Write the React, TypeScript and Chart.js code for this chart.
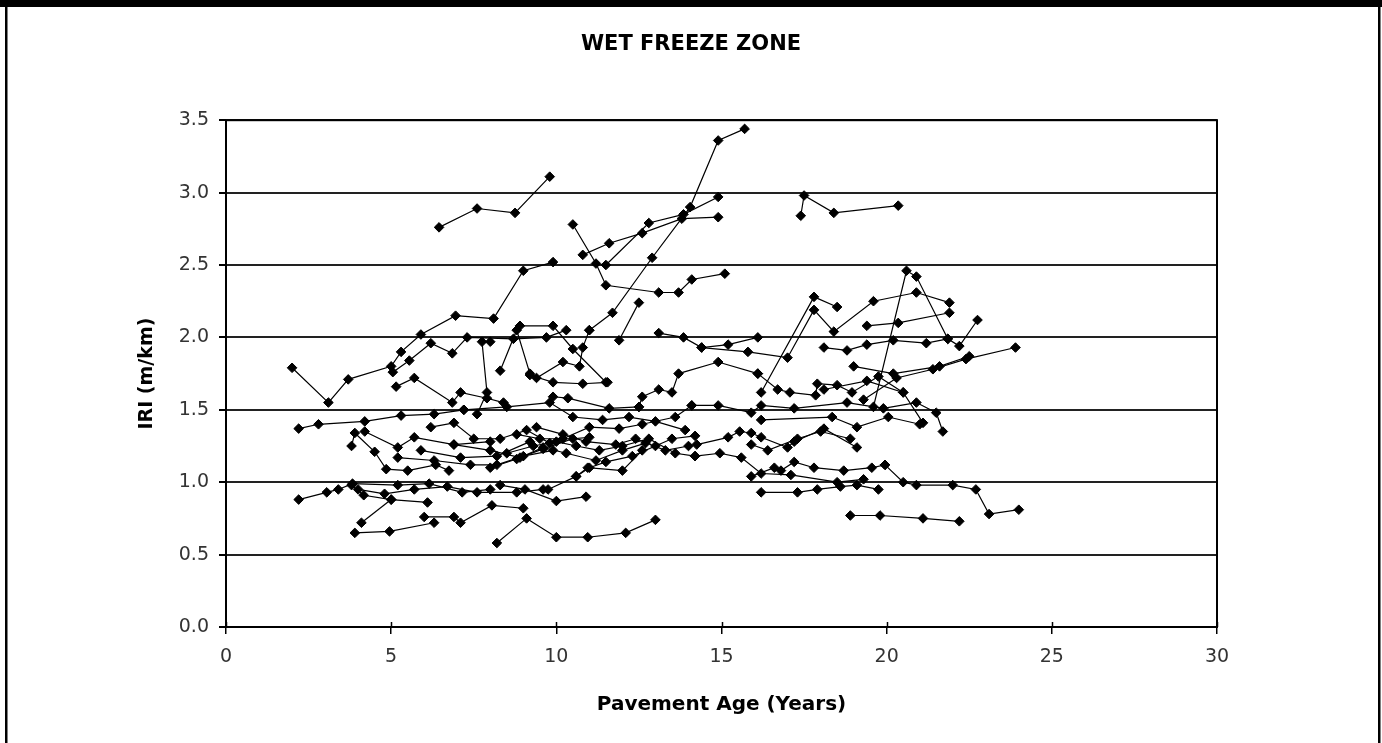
import React, { useEffect, useRef } from "react";
import { Chart, registerables } from "chart.js";

Chart.register(...registerables);

// ---- data: [pavement age (years), IRI (m/km)] per test section ----
const s01 = [[6.45, 2.76], [7.6, 2.89], [8.75, 2.86], [9.8, 3.11]];
const s02 = [[11.0, 2.05], [11.7, 2.17], [12.9, 2.55], [14.05, 2.9], [14.9, 3.36], [15.7, 3.44]];
const s03 = [[10.5, 2.78], [11.2, 2.51], [11.5, 2.36], [13.1, 2.31], [13.7, 2.31], [14.1, 2.4], [15.1, 2.44]];
const s04 = [[10.8, 2.57], [11.6, 2.65], [12.6, 2.72], [13.8, 2.82], [14.9, 2.83]];
const s05 = [[11.5, 2.5], [12.8, 2.79], [13.85, 2.85], [14.9, 2.97]];
const s06 = [[17.4, 2.84], [17.5, 2.98], [18.4, 2.86], [20.35, 2.91]];
const s07 = [[2.0, 1.79], [3.1, 1.55], [3.7, 1.71], [5.0, 1.8], [5.3, 1.9], [5.9, 2.02], [6.95, 2.15], [8.1, 2.13], [9.0, 2.46], [9.9, 2.52]];
const s08 = [[5.05, 1.76], [5.55, 1.84], [6.2, 1.96], [6.85, 1.89], [7.3, 2.0], [8.7, 1.99], [9.7, 2.0], [10.3, 2.05]];
const s09 = [[8.9, 2.08], [9.9, 2.08], [10.5, 1.92], [11.5, 1.69]];
const s10 = [[9.2, 1.74], [9.9, 1.69], [10.8, 1.68], [11.55, 1.69]];
const s11 = [[11.9, 1.98], [12.5, 2.24]];
const s12 = [[13.1, 2.03], [13.85, 2.0], [14.4, 1.93], [15.2, 1.95], [16.1, 2.0]];
const s13 = [[14.4, 1.93], [15.8, 1.9], [17.0, 1.86], [17.8, 2.19], [18.4, 2.04], [19.6, 2.25], [20.9, 2.31], [21.9, 2.24]];
const s14 = [[16.2, 1.62], [17.8, 2.28], [18.5, 2.21]];
const s15 = [[19.4, 2.08], [20.35, 2.1], [21.9, 2.17]];
const s16 = [[19.6, 1.52], [20.6, 2.46], [20.9, 2.42], [21.85, 1.99], [22.2, 1.94], [22.75, 2.12]];
const s17 = [[19.3, 1.57], [20.3, 1.72], [21.4, 1.78], [22.4, 1.85], [23.9, 1.93]];
const s18 = [[19.0, 1.8], [20.2, 1.75], [21.6, 1.8], [22.5, 1.87]];
const s19 = [[18.1, 1.64], [19.4, 1.7], [20.5, 1.62], [21.1, 1.41]];
const s20 = [[2.2, 1.37], [2.8, 1.4], [4.2, 1.42], [5.3, 1.46], [6.3, 1.47], [7.2, 1.5]];
const s21 = [[3.8, 1.25], [3.9, 1.34], [4.5, 1.21], [4.85, 1.09], [5.5, 1.08], [6.35, 1.12], [6.75, 1.08]];
const s22 = [[4.2, 1.35], [5.2, 1.24], [5.7, 1.31], [6.9, 1.26], [8.0, 1.28]];
const s23 = [[5.9, 1.22], [7.1, 1.17], [8.2, 1.18], [9.2, 1.28]];
const s24 = [[5.15, 1.66], [5.7, 1.72], [6.85, 1.55], [7.1, 1.62], [7.9, 1.58], [8.4, 1.55]];
const s25 = [[2.2, 0.88], [3.05, 0.93], [3.4, 0.95], [3.83, 0.99], [5.2, 0.98], [6.15, 0.99], [7.15, 0.93], [8.0, 0.95]];
const s26 = [[3.8, 0.98], [4.17, 0.91], [5.0, 0.88], [6.1, 0.86]];
const s27 = [[4.1, 0.72], [5.0, 0.88]];
const s28 = [[3.9, 0.65], [4.95, 0.66], [6.3, 0.72]];
const s29 = [[6.0, 0.76], [6.9, 0.76], [7.1, 0.72], [8.05, 0.84], [9.0, 0.82]];
const s30 = [[8.2, 0.58], [9.1, 0.75], [10.0, 0.62], [10.95, 0.62], [12.1, 0.65], [13.0, 0.74]];
const s31 = [[8.3, 0.98], [9.05, 0.95], [10.0, 0.87], [10.9, 0.9]];
const s32 = [[9.75, 0.95], [10.6, 1.04], [10.95, 1.1], [12.0, 1.08], [12.6, 1.22]];
const s33 = [[16.2, 0.93], [17.3, 0.93], [17.9, 0.95], [18.6, 0.97], [19.1, 0.98], [19.75, 0.95]];
const s34 = [[18.9, 0.77], [19.8, 0.77], [21.1, 0.75], [22.2, 0.73]];
const s35 = [[19.95, 1.12], [20.5, 1.0], [20.9, 0.98], [22.0, 0.98], [22.7, 0.95], [23.1, 0.78], [24.0, 0.81]];
const s36 = [[15.9, 1.04], [16.6, 1.1], [16.8, 1.08], [17.2, 1.14], [17.8, 1.1], [18.7, 1.08], [19.55, 1.1], [19.95, 1.12]];
const s37 = [[14.2, 1.18], [14.95, 1.2], [15.6, 1.17], [16.2, 1.06], [17.1, 1.05], [18.5, 1.0], [19.3, 1.02]];
const s38 = [[14.1, 1.53], [14.9, 1.53], [15.9, 1.48], [16.2, 1.53], [17.2, 1.51], [18.8, 1.55], [19.9, 1.51], [20.9, 1.55], [21.5, 1.48], [21.7, 1.35]];
const s39 = [[16.2, 1.43], [18.35, 1.45], [19.1, 1.38], [20.05, 1.45], [21.0, 1.4]];
const s40 = [[14.25, 1.26], [15.2, 1.31], [15.55, 1.35], [15.9, 1.34], [16.2, 1.31], [17.0, 1.24], [17.2, 1.28], [18.1, 1.37], [19.1, 1.24]];
const s41 = [[16.1, 1.75], [16.7, 1.64], [17.07, 1.62], [17.85, 1.6], [17.9, 1.68], [18.5, 1.67], [18.95, 1.62], [19.75, 1.73], [20.5, 1.62]];
const s42 = [[12.5, 1.52], [12.6, 1.59], [13.1, 1.64], [13.5, 1.62], [13.7, 1.75], [14.9, 1.83], [16.1, 1.75]];
const s43 = [[8.5, 1.2], [9.3, 1.25], [10.0, 1.28], [10.6, 1.25], [11.3, 1.22], [12.0, 1.25], [12.8, 1.3], [13.6, 1.2], [14.2, 1.18]];
const s44 = [[8.8, 1.33], [9.5, 1.3], [10.2, 1.3], [11.0, 1.38], [11.9, 1.37], [12.6, 1.4], [13.6, 1.45], [14.1, 1.53]];
const s45 = [[7.2, 1.5], [8.5, 1.52], [9.8, 1.55], [10.5, 1.45], [11.4, 1.43], [12.2, 1.45], [13.0, 1.42], [13.9, 1.36]];
const s46 = [[6.9, 1.26], [8.0, 1.22], [8.9, 1.17], [9.6, 1.24], [10.3, 1.2], [11.2, 1.15], [12.0, 1.22], [12.7, 1.27]];
const s47 = [[9.4, 1.38], [10.2, 1.33], [10.9, 1.28], [11.8, 1.26], [12.4, 1.3], [13.3, 1.22], [14.0, 1.25]];
const s48 = [[10.6, 1.04], [11.0, 1.1], [11.5, 1.14], [12.3, 1.18], [13.0, 1.25], [13.5, 1.3], [14.2, 1.32]];
const s49 = [[9.9, 1.59], [10.35, 1.58], [11.6, 1.51], [12.5, 1.52]];
const s50 = [[8.0, 1.1], [8.8, 1.16], [9.6, 1.23], [10.5, 1.3], [11.0, 1.31]];
const s51 = [[7.6, 1.47], [7.9, 1.62], [7.75, 1.97], [8.0, 1.97]];
const s52 = [[8.3, 1.77], [8.8, 2.05], [9.2, 1.75], [9.4, 1.72], [10.2, 1.83], [10.7, 1.8], [10.8, 1.93], [11.0, 2.05]];
const s53 = [[18.1, 1.93], [18.8, 1.91], [19.4, 1.95], [20.2, 1.98], [21.2, 1.96], [21.85, 1.99]];
const s54 = [[15.9, 1.26], [16.4, 1.22], [17.3, 1.3], [18.0, 1.35], [18.9, 1.3]];
const s55 = [[4.0, 0.95], [4.8, 0.92], [5.7, 0.95], [6.7, 0.97], [7.6, 0.93], [8.8, 0.93], [9.6, 0.95]];
const s56 = [[5.2, 1.17], [6.3, 1.15], [7.4, 1.12], [8.2, 1.12], [9.0, 1.18], [9.9, 1.22]];
const s57 = [[6.2, 1.38], [6.9, 1.41], [7.5, 1.3], [8.3, 1.3], [9.1, 1.36], [9.8, 1.27]];

const SECTIONS = [
  s01, s02, s03, s04, s05, s06, s07, s08, s09, s10, s11, s12, s13, s14, s15, s16, s17, s18, s19, s20,
  s21, s22, s23, s24, s25, s26, s27, s28, s29, s30, s31, s32, s33, s34, s35, s36, s37, s38, s39, s40,
  s41, s42, s43, s44, s45, s46, s47, s48, s49, s50, s51, s52, s53, s54, s55, s56, s57,
];

const xTickValues = [0, 5, 10, 15, 20, 25, 30];
const yTickValues = [0, 0.5, 1, 1.5, 2, 2.5, 3, 3.5];
const chartTitle = "WET FREEZE ZONE";
const xTitle = "Pavement Age (Years)";
const yTitle = "IRI (m/km)";

const W = 1382;
const H = 743;
const FONT = "'DejaVu Sans', Verdana, sans-serif";

const framePlugin = {
  id: "frame",
  beforeDraw(chart: any) {
    const ctx = chart.ctx;
    ctx.save();
    ctx.fillStyle = "#fff";
    ctx.fillRect(0, 0, W, H);
    ctx.restore();
  },
  afterDraw(chart: any) {
    const { ctx, chartArea } = chart;
    const { left, top, right, bottom } = chartArea;
    ctx.save();
    ctx.fillStyle = "#000";
    ctx.fillRect(0, 0, W, 7);
    ctx.fillRect(5, 0, 2.5, H);
    ctx.fillRect(1378, 0, 2.5, H);
    ctx.strokeStyle = "#000";
    ctx.lineWidth = 2;
    ctx.strokeRect(left, top, right - left, bottom - top);
    // inner halves of the x tick marks (ticks cross the axis)
    const xs = chart.scales.x;
    ctx.lineWidth = 1.5;
    xTickValues.forEach((v) => {
      const px = Math.round(xs.getPixelForValue(v)) + 0.5;
      ctx.beginPath();
      ctx.moveTo(px, bottom - 5);
      ctx.lineTo(px, bottom);
      ctx.stroke();
    });
    ctx.restore();
  },
};

export default function App() {
  const canvasRef = useRef<HTMLCanvasElement | null>(null);

  useEffect(() => {
    const canvas = canvasRef.current;
    if (!canvas) return;
    const datasets = SECTIONS.map((pts, i) => ({
      label: "Section " + (i + 1),
      data: pts.map(([x, y]) => ({ x, y })),
      showLine: true,
      borderColor: "#000",
      backgroundColor: "#000",
      borderWidth: 1.2,
      pointStyle: "rectRot" as const,
      pointRadius: 4.8,
      pointBorderWidth: 1,
      pointBorderColor: "#000",
      pointBackgroundColor: "#000",
      tension: 0,
    }));

    const chart = new Chart(canvas, {
      type: "scatter",
      data: { datasets },
      plugins: [framePlugin],
      options: {
        animation: false,
        responsive: false,
        maintainAspectRatio: false,
        events: [],
        layout: { padding: { left: 0, right: 0, top: 0, bottom: 0 } },
        plugins: {
          legend: { display: false },
          tooltip: { enabled: false },
          title: {
            display: true,
            text: chartTitle,
            color: "#000",
            font: { family: FONT, size: 21, weight: "bold" },
            padding: { top: 32, bottom: 63 },
          },
        },
        scales: {
          x: {
            type: "linear",
            min: 0,
            max: 30,
            afterBuildTicks: (scale: any) => {
              scale.ticks = xTickValues.map((v) => ({ value: v }));
            },
            afterFit: (scale: any) => {
              scale.height = 116;
            },
            ticks: {
              color: "#333",
              font: { family: FONT, size: 19 },
              padding: 12,
              maxRotation: 0,
              callback: (v: any) => String(v),
            },
            grid: {
              drawOnChartArea: false,
              drawTicks: true,
              tickLength: 7,
              color: "#000",
              lineWidth: 1.5,
            },
            border: { display: false },
            title: {
              display: true,
              text: xTitle,
              color: "#000",
              font: { family: FONT, size: 20, weight: "bold" },
              padding: { top: 0, bottom: 26 },
            },
          },
          y: {
            type: "linear",
            min: 0,
            max: 3.5,
            afterBuildTicks: (scale: any) => {
              scale.ticks = yTickValues.map((v) => ({ value: v }));
            },
            afterFit: (scale: any) => {
              scale.width = 226;
            },
            ticks: {
              color: "#333",
              font: { family: FONT, size: 19 },
              padding: 10,
              callback: (v: any) => Number(v).toFixed(1),
            },
            grid: {
              drawOnChartArea: true,
              drawTicks: true,
              tickLength: 7,
              color: "#222",
              tickColor: "#000",
              lineWidth: 2,
            },
            border: { display: false },
            title: {
              display: true,
              text: yTitle,
              color: "#000",
              font: { family: FONT, size: 19, weight: "bold" },
              padding: { top: 136, bottom: 0 },
            },
          },
          spacer: {
            type: "linear",
            position: "right",
            min: 0,
            max: 1,
            display: true,
            afterFit: (scale: any) => {
              scale.width = 165;
            },
            ticks: { display: false },
            grid: { display: false, drawTicks: false },
            border: { display: false },
          },
        },
      },
    });
    return () => chart.destroy();
  }, []);

  return (
    <div style={{ position: "fixed", left: 0, top: 0, width: W, height: H, background: "#fff" }}>
      <canvas ref={canvasRef} width={W} height={H} style={{ display: "block", width: W, height: H }} />
    </div>
  );
}
